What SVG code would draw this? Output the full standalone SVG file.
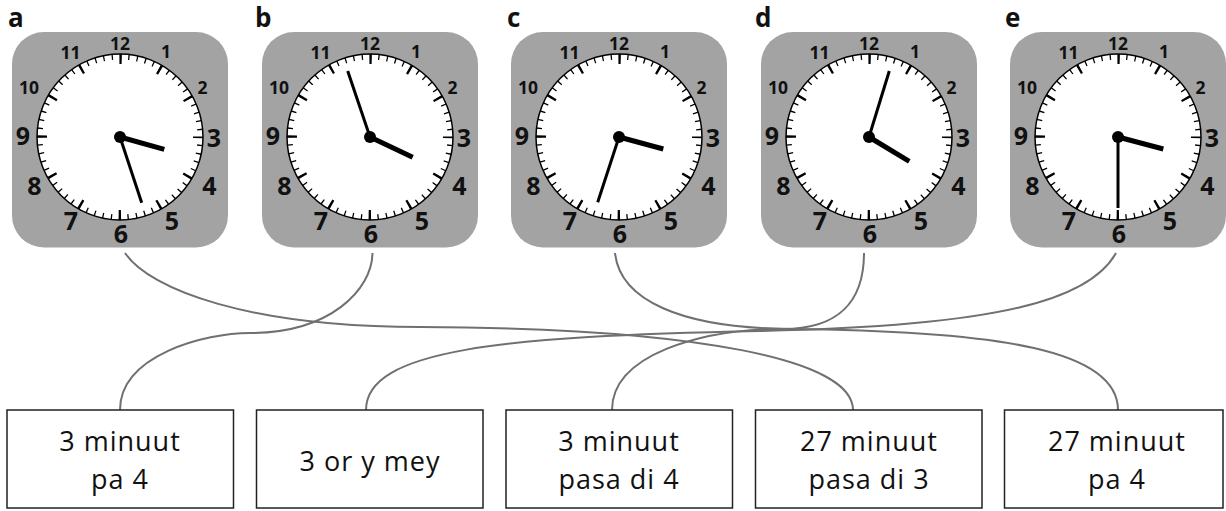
<svg xmlns="http://www.w3.org/2000/svg" xmlns:xlink="http://www.w3.org/1999/xlink" width="1226" height="511" viewBox="0 0 1226 511">
<style>
.lbl{font-family:"Open Sans","Liberation Sans",sans-serif;font-weight:bold;font-size:26px;fill:#111}
.ns{font-family:"Open Sans","Liberation Sans",sans-serif;font-weight:bold;font-size:17.5px;fill:#111;text-anchor:middle}
.nb{font-family:"Open Sans","Liberation Sans",sans-serif;font-weight:bold;font-size:25px;fill:#111;text-anchor:middle}
.hr{stroke:#000;stroke-width:5}
.mn{stroke:#000;stroke-width:3}
.conn{fill:none;stroke:#707070;stroke-width:2}
.box{fill:#fff;stroke:#222;stroke-width:1.5}
.bt{font-family:"Open Sans","Liberation Sans",sans-serif;font-size:27px;letter-spacing:1px;fill:#111;text-anchor:middle}
</style>
<defs>
<g id="face">
<rect x="-108" y="-105" width="216" height="215.5" rx="32" fill="#a3a3a3"/>
<circle r="83" fill="#fff" stroke="#000" stroke-width="1.5"/>
<circle r="80.25" fill="none" stroke="#000" stroke-width="5.5" stroke-dasharray="1.3 7.10376" stroke-dashoffset="0.65"/>
<circle r="78" fill="none" stroke="#000" stroke-width="10" stroke-dasharray="2.4 38.4407" stroke-dashoffset="1.2"/>
<text class="ns" x="0" y="-87.5">12</text>
<text class="ns" x="46" y="-79.5">1</text>
<text class="ns" x="82.5" y="-43.5">2</text>
<text class="ns" x="-91" y="-43.5">10</text>
<text class="ns" x="-49.5" y="-78.5">11</text>
<text class="nb" x="94" y="10">3</text>
<text class="nb" x="89.5" y="58">4</text>
<text class="nb" x="52" y="93">5</text>
<text class="nb" x="1" y="106">6</text>
<text class="nb" x="-49" y="93">7</text>
<text class="nb" x="-85.5" y="58">8</text>
<text class="nb" x="-97" y="8">9</text>
</g>
</defs>

<g id="connectors">
<path class="conn" d="M125,253 C150,290 250,327 420,327 C700,328 853,360 853,410"/>
<path class="conn" d="M372.5,253 C372,290 330,333 250,333 C205,333 120,355 120,410"/>
<path class="conn" d="M615,253 C620,300 680,328 790,329 C1000,331 1118,350 1118,410"/>
<path class="conn" d="M864,253 C864,300 840,329 783,329 C700,329 612,355 612,410"/>
<path class="conn" d="M1116,253 C1090,300 1000,326 760,331 C500,336 366,350 366,410"/>
</g>

<g id="clock-a">
<text class="lbl" x="8" y="27">a</text>
<g transform="translate(120,137)">
<use href="#face" xlink:href="#face"/>
<line class="mn" x1="0" y1="0" x2="21.7" y2="65.7"/>
<line class="hr" x1="0" y1="0" x2="44.3" y2="12.3"/>
<circle r="6" fill="#000"/>
</g>
</g>

<g id="clock-b">
<text class="lbl" x="255" y="27">b</text>
<g transform="translate(370,137)">
<use href="#face" xlink:href="#face"/>
<line class="mn" x1="0" y1="0" x2="-22.3" y2="-66"/>
<line class="hr" x1="0" y1="0" x2="42.7" y2="20.3"/>
<circle r="6" fill="#000"/>
</g>
</g>

<g id="clock-c">
<text class="lbl" x="507" y="27">c</text>
<g transform="translate(619,137)">
<use href="#face" xlink:href="#face"/>
<line class="mn" x1="0" y1="0" x2="-21.3" y2="65.3"/>
<line class="hr" x1="0" y1="0" x2="44.3" y2="12"/>
<circle r="6" fill="#000"/>
</g>
</g>

<g id="clock-d">
<text class="lbl" x="755" y="27">d</text>
<g transform="translate(869,137)">
<use href="#face" xlink:href="#face"/>
<line class="mn" x1="0" y1="0" x2="20.3" y2="-66"/>
<line class="hr" x1="0" y1="0" x2="40.3" y2="24.3"/>
<circle r="6" fill="#000"/>
</g>
</g>

<g id="clock-e">
<text class="lbl" x="1005" y="27">e</text>
<g transform="translate(1118,137)">
<use href="#face" xlink:href="#face"/>
<line class="mn" x1="0" y1="0" x2="0" y2="71"/>
<line class="hr" x1="0" y1="0" x2="45.3" y2="12"/>
<circle r="6" fill="#000"/>
</g>
</g>

<g id="box-1">
<rect class="box" x="7" y="410" width="226.5" height="98"/>
<text class="bt" x="120" y="451">3 minuut</text>
<text class="bt" x="120" y="489">pa 4</text>
</g>
<g id="box-2">
<rect class="box" x="256.5" y="410" width="226.5" height="98"/>
<text class="bt" x="370" y="471">3 or y mey</text>
</g>
<g id="box-3">
<rect class="box" x="506" y="410" width="226.5" height="98"/>
<text class="bt" x="619" y="451">3 minuut</text>
<text class="bt" x="619" y="489">pasa di 4</text>
</g>
<g id="box-4">
<rect class="box" x="755.5" y="410" width="226.5" height="98"/>
<text class="bt" x="869" y="451">27 minuut</text>
<text class="bt" x="869" y="489">pasa di 3</text>
</g>
<g id="box-5">
<rect class="box" x="1004.5" y="410" width="218.5" height="98"/>
<text class="bt" x="1117" y="451">27 minuut</text>
<text class="bt" x="1117" y="489">pa 4</text>
</g>
</svg>
